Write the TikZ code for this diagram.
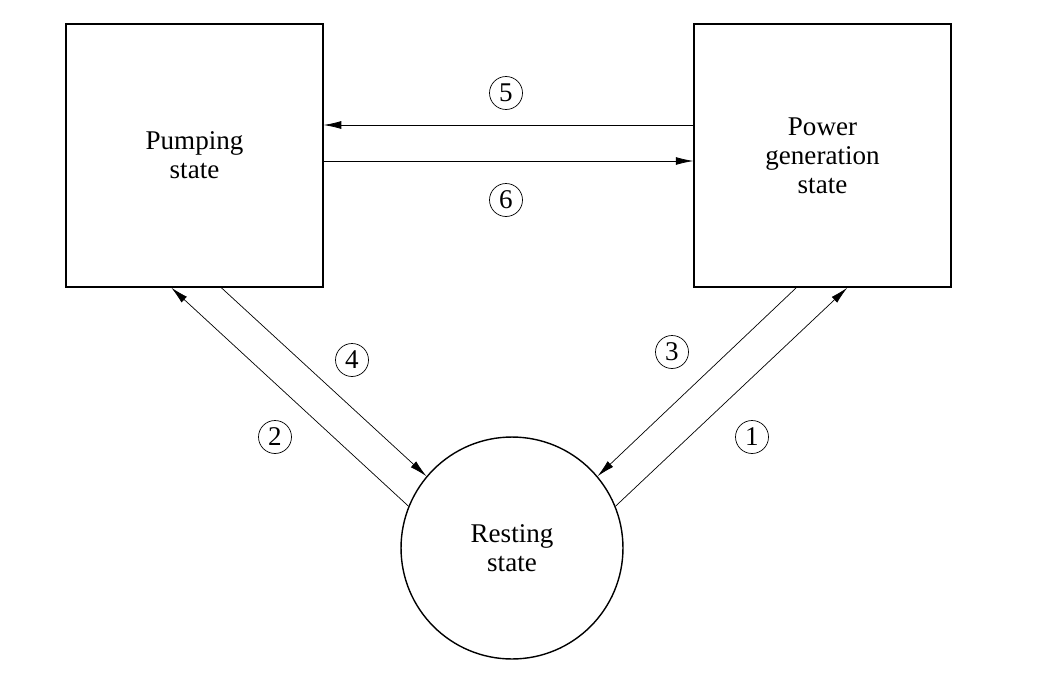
\documentclass[tikz,border=0pt]{standalone}
\usepackage{fontspec}
\setmainfont{Liberation Serif}
\usetikzlibrary{arrows.meta}
\begin{document}
\begin{tikzpicture}[x=0.02cm,y=-0.02cm,
  state/.style={draw,thick,minimum width=5.14cm,minimum height=5.26cm,align=center,inner sep=0pt},
  num/.style={draw,circle,minimum size=0.66cm,inner sep=0pt},
  arr/.style={-{Latex[length=10pt,width=4.5pt]}}]
\fontsize{15.4}{16.5}\selectfont
\useasboundingbox (0,0) rectangle (1050,696);
\node (pump) at (194.5,155.5) [state] {Pumping\\state};
\node (power) at (822.5,155.5) [state] {Power\\generation\\state};
\node (rest) at (512,548) [draw,thick,circle,minimum size=4.44cm,align=center,inner sep=0pt] {Resting\\state};
\draw[arr] ([yshift=0.61cm]power.west) -- ([yshift=0.61cm]pump.east);
\draw[arr] ([yshift=-0.11cm]pump.east) -- ([yshift=-0.11cm]power.west);
\draw[arr] (rest.158) -- ([xshift=2.12cm]pump.south west);
\draw[arr] ([xshift=3.12cm]pump.south west) -- (rest.140);
\draw[arr] ([xshift=2.06cm]power.south west) -- (rest.40);
\draw[arr] (rest.22) -- ([xshift=3.08cm]power.south west);
\node (n5) at (506,93) [num] {5};
\node (n6) at (506,200) [num] {6};
\node (n4) at (352,360) [num] {4};
\node (n2) at (275,437) [num] {2};
\node (n3) at (672,352) [num] {3};
\node (n1) at (752,437) [num] {1};
\end{tikzpicture}
\end{document}
